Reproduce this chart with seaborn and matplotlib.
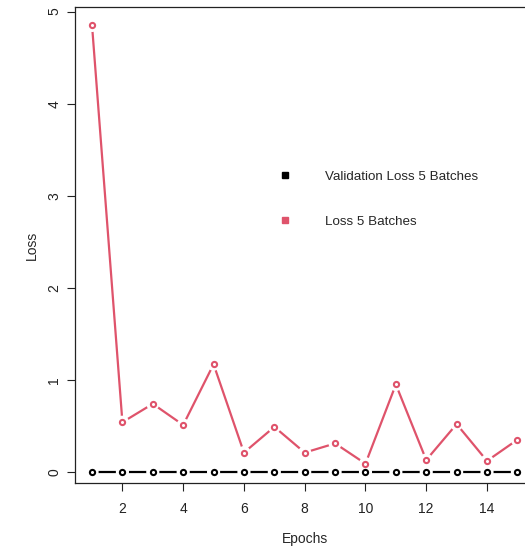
import numpy as np
import pandas as pd
import matplotlib
matplotlib.use("Agg")
import matplotlib.pyplot as plt
from matplotlib.lines import Line2D
import seaborn as sns

# --- DADOS ---
epochs = list(range(1, 16))
loss_5 = [4.85, 0.54, 0.74, 0.51, 1.17, 0.21, 0.49, 0.21, 0.31, 0.09, 0.95, 0.13, 0.52, 0.12, 0.35]
val_loss_5 = [0.0] * 15
series_names = ["Validation Loss 5 Batches", "Loss 5 Batches"]
cores = ["black", "#DF536B"]

df = pd.DataFrame({
    "Epochs": epochs * 2,
    "Loss": val_loss_5 + loss_5,
    "serie": [series_names[0]] * 15 + [series_names[1]] * 15,
})

sns.set_style("ticks")
plt.rcParams["font.family"] = ["Liberation Sans", "DejaVu Sans"]

fig = plt.figure(figsize=(5.25, 5.48), dpi=100)
ax = fig.add_axes([0.1429, 0.1186, 0.875, 0.8686])

paleta = dict(zip(series_names, cores))

# linhas
sns.lineplot(data=df, x="Epochs", y="Loss", hue="serie", palette=paleta,
             linewidth=1.6, legend=False, ax=ax, zorder=1)
# buracos em volta dos pontos (estilo type="b" do R)
sns.scatterplot(data=df, x="Epochs", y="Loss", color="white", s=90,
                edgecolor="none", legend=False, ax=ax, zorder=2)
# pontos abertos
for nome in series_names:
    sub = df[df["serie"] == nome]
    ax.scatter(sub["Epochs"], sub["Loss"], s=14, facecolor="white",
               edgecolor=paleta[nome], linewidth=1.5, zorder=3)

ax.set_xlim(0.44, 15.56)
ax.set_ylim(-0.12, 5.05)
ax.set_xticks([2, 4, 6, 8, 10, 12, 14])
ax.set_yticks([0, 1, 2, 3, 4, 5])
ax.tick_params(axis="both", length=6, width=0.8, labelsize=10, colors="#222222")
ax.tick_params(axis="x", pad=8)
ax.tick_params(axis="y", pad=4)
for lab in ax.get_yticklabels():
    lab.set_rotation(90)
    lab.set_va("center")
for s in ax.spines.values():
    s.set_linewidth(0.9)
    s.set_color("#222222")

ax.set_xlabel("Epochs", fontsize=10, labelpad=11)
ax.set_ylabel("Loss", fontsize=10, labelpad=6)

handles = [Line2D([], [], marker="s", linestyle="none", color=c, markersize=5) for c in cores]
ax.legend(handles, series_names, loc="upper left", bbox_to_anchor=(0.5067, 0.711),
          bbox_transform=fig.transFigure, frameon=False, fontsize=9.6,
          handlelength=1.0, handletextpad=2.55, labelspacing=2.45)

fig.savefig("out.png", dpi=100)
